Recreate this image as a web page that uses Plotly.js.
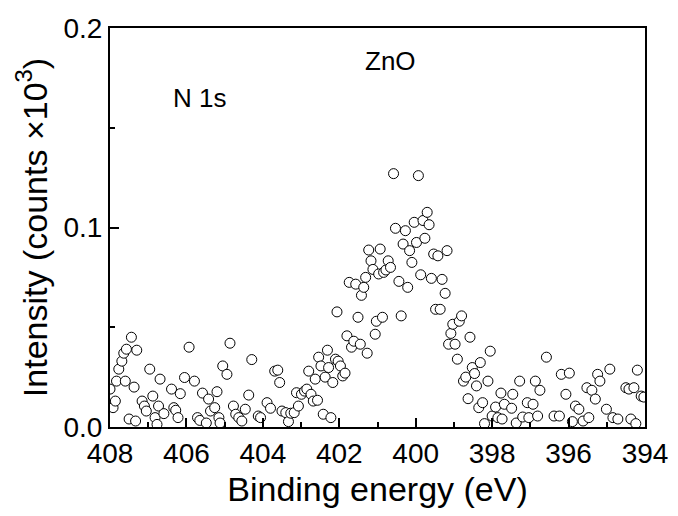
<!DOCTYPE html>
<html>
<head>
<meta charset="utf-8">
<script src="https://cdn.plot.ly/plotly-3.0.1.min.js"></script>
<style>html,body{margin:0;padding:0;background:#fff;}#chart{width:678px;height:516px;}</style>
</head>
<body>
<div id="chart"></div>
<script>
// Binding energy (eV)
const energy = [
408.0,407.92,407.86,407.83,407.77,407.69,407.64,407.6,407.57,407.5,407.44,407.37,407.33,407.3,407.16,407.1,407.05,
406.96,406.88,406.82,406.77,406.73,406.69,406.59,406.39,406.33,406.28,406.22,406.16,406.05,
405.93,405.79,405.71,405.65,405.58,405.48,405.42,405.37,405.26,405.2,405.15,405.12,405.05,
404.94,404.86,404.77,404.71,404.63,404.55,404.46,404.37,404.29,404.12,404.06,
403.89,403.8,403.69,403.61,403.56,403.5,403.4,403.33,403.27,403.18,403.12,403.07,
402.99,402.91,402.85,402.8,402.74,402.68,402.63,402.57,402.54,402.48,402.42,402.37,402.31,402.28,402.22,402.17,402.1,402.06,402.03,
401.97,401.91,401.85,401.8,401.74,401.68,401.62,401.57,401.51,401.45,401.42,401.36,401.31,401.27,401.23,401.17,401.12,401.06,401.03,
400.97,400.93,400.87,400.84,400.78,400.72,400.66,400.58,400.53,400.44,400.38,400.33,400.27,400.21,400.16,400.1,400.04,
399.98,399.93,399.87,399.81,399.76,399.7,399.65,399.59,399.53,399.48,399.42,399.36,399.31,399.23,399.18,399.14,399.08,399.03,
398.97,398.91,398.86,398.8,398.75,398.69,398.63,398.58,398.52,398.46,398.41,398.35,398.31,398.25,398.2,398.11,398.05,
398.0,397.91,397.85,397.77,397.74,397.68,397.49,397.46,397.37,397.28,397.2,397.08,397.04,
396.93,396.87,396.81,396.75,396.58,396.38,396.24,396.19,396.07,
395.98,395.9,395.82,395.73,395.62,395.52,395.47,395.39,395.3,395.24,395.18,395.01,
394.92,394.84,394.71,394.5,394.42,394.37,394.29,394.24,394.2,394.1,394.03
];
// Intensity (counts x10^3)
const intensity = [
0.019,0.0097,0.013,0.023,0.029,0.033,0.037,0.023,0.039,0.004,0.045,0.020,0.003,0.0385,0.013,0.0105,0.008,
0.029,0.0155,0.0047,0.0013,0.0105,0.024,0.0067,0.019,0.0097,0.0084,0.0047,0.0167,0.0248,
0.040,0.023,0.0047,0.0033,0.017,0.002,0.014,0.008,0.0097,0.0177,0.0047,0.002,0.0306,
0.0264,0.042,0.0105,0.0064,0.0047,0.003,0.0089,0.016,0.0338,0.0055,0.0047,
0.0122,0.0094,0.028,0.0285,0.0223,0.008,0.0072,0.0027,0.0069,0.0072,0.0172,0.0105,
0.0164,0.018,0.019,0.028,0.0164,0.013,0.024,0.0134,0.035,0.0306,0.0064,0.025,0.0385,0.0298,0.0047,0.0223,0.034,0.0577,0.033,
0.0306,0.0256,0.027,0.0457,0.0725,0.040,0.043,0.0716,0.055,0.0415,0.066,0.070,0.075,0.037,0.0887,0.0833,0.079,0.0465,0.053,
0.0767,0.0892,0.055,0.0775,0.0787,0.0833,0.080,0.127,0.0996,0.073,0.0557,0.0917,0.0984,0.070,0.0884,0.0825,0.1026,
0.0925,0.126,0.0763,0.1035,0.0946,0.1076,0.1014,0.0745,0.0867,0.059,0.0858,0.059,0.074,0.067,0.0884,0.0415,0.0469,0.0515,
0.0415,0.034,0.053,0.0557,0.023,0.025,0.0142,0.045,0.0298,0.0268,0.0206,0.0097,0.0323,0.0122,0.0017,0.023,0.038,
0.0055,0.010,0.0047,0.017,0.004,0.0114,0.0094,0.0164,0.002,0.023,0.005,0.0122,0.0047,
0.0114,0.023,0.0055,0.0184,0.035,0.0055,0.0055,0.0264,0.0164,
0.027,0.0027,0.0105,0.0089,0.003,0.0197,0.0047,0.0184,0.014,0.0264,0.023,0.0089,
0.029,0.0047,0.004,0.0197,0.019,0.004,0.0197,0.0017,0.0285,0.0155,0.015
];
const xTickVals = [408,406,404,402,400,398,396,394];
const yTickVals = [0.0,0.1,0.2];
const yTickText = ["0.0","0.1","0.2"];

const font = "Liberation Sans, Arial, sans-serif";
const trace = {
  x: energy, y: intensity, type: "scatter", mode: "markers",
  marker: {symbol: "circle", size: 10, color: "#ffffff", line: {color: "#000000", width: 1}},
  cliponaxis: true, hoverinfo: "none"
};
const layout = {
  width: 678, height: 516,
  margin: {l: 110, r: 33, t: 28, b: 89},
  paper_bgcolor: "#fff", plot_bgcolor: "#fff",
  showlegend: false,
  font: {family: font, color: "#000"},
  xaxis: {
    range: [408, 394], autorange: false,
    tickvals: xTickVals, ticktext: xTickVals.map(String),
    ticks: "inside", ticklen: 9, tickwidth: 2, tickcolor: "#000",
    minor: {ticks: "inside", dtick: 1, tick0: 394, ticklen: 5, tickwidth: 2, tickcolor: "#000", showgrid: false},
    showline: true, linecolor: "#000", linewidth: 2, mirror: true,
    showgrid: false, zeroline: false,
    tickfont: {size: 28, family: font, color: "#000"},
    title: {text: "Binding energy (eV)", font: {size: 34, family: font, color: "#000"}, standoff: 10}
  },
  yaxis: {
    range: [0, 0.2], autorange: false,
    tickvals: yTickVals, ticktext: yTickText,
    ticks: "inside", ticklen: 9, tickwidth: 2, tickcolor: "#000",
    minor: {ticks: "inside", dtick: 0.05, tick0: 0, ticklen: 5, tickwidth: 2, tickcolor: "#000", showgrid: false},
    showline: true, linecolor: "#000", linewidth: 2, mirror: true,
    showgrid: false, zeroline: false,
    tickfont: {size: 28, family: font, color: "#000"},
    title: {text: "Intensity (counts \u00d710<sup>3</sup>)", font: {size: 34, family: font, color: "#000"}, standoff: 6}
  },
  annotations: [
    {text: "ZnO", xref: "x", yref: "y", x: 400.67, y: 0.1835, showarrow: false, font: {size: 26, family: font, color: "#000"}},
    {text: "N 1s", xref: "x", yref: "y", x: 405.67, y: 0.165, showarrow: false, font: {size: 26, family: font, color: "#000"}}
  ]
};
Plotly.newPlot("chart", [trace], layout, {displayModeBar: false, staticPlot: true});
</script>
</body>
</html>
